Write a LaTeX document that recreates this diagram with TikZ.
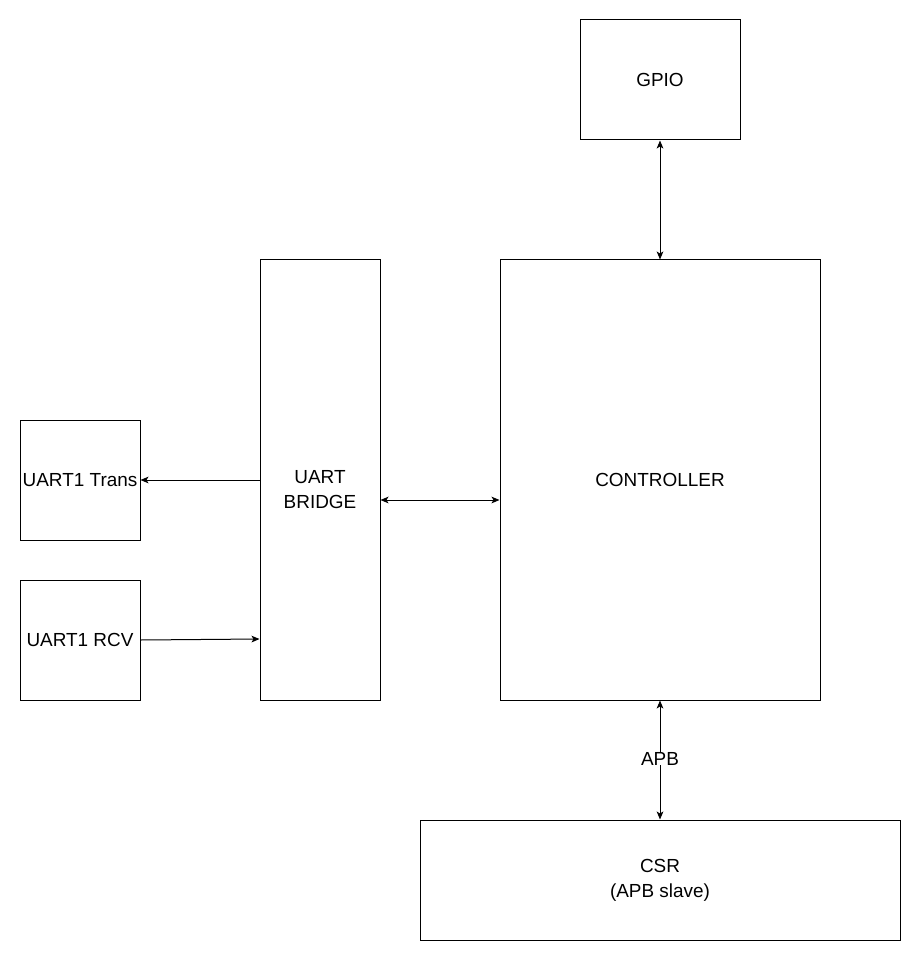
\documentclass[tikz,border=0pt]{standalone}
\usepackage{fontspec}
\setmainfont{Liberation Sans}
\usetikzlibrary{arrows.meta}

\begin{document}
\begin{tikzpicture}[x=0.75pt,y=-0.75pt,line width=0.75pt,>={Stealth[length=6pt,width=5pt,inset=1.5pt]},
    txt/.style={inner sep=0pt,align=center,font=\fontsize{14.2}{18.8}\selectfont},
    blk/.style={draw,txt}]
    \useasboundingbox (0,0) rectangle (922,962);
    % blocks
    \node[blk,minimum width=120pt,minimum height=90pt] (gpio) at (660,80) {GPIO};
    \node[blk,minimum width=90pt,minimum height=330pt] (bridge) at (320,480) {};
    \node[txt] (bridgetxt) at (320,490) {UART\\BRIDGE};
    \node[blk,minimum width=240pt,minimum height=330pt] (ctrl) at (660,480) {CONTROLLER};
    \node[blk,minimum width=90pt,minimum height=90pt] (trans) at (80,480) {UART1 Trans};
    \node[blk,minimum width=90pt,minimum height=90pt] (rcv) at (80,640) {UART1 RCV};
    \node[blk,minimum width=360pt,minimum height=90pt] (csr) at (660,880) {CSR\\(APB slave)};
    % links
    \draw [<->] (gpio) -- (ctrl);
    \draw [<->] (bridge.east |- 0,500) -- (ctrl.west |- 0,500);
    \draw [->] (bridge.west |- trans) -- (trans);
    \draw [->] (rcv.east) -- (bridge.west |- 0,639);
    \draw [<->] (ctrl) -- (csr) node[midway,fill=white,inner sep=2pt,txt,yshift=1pt] (apb) {APB};
\end{tikzpicture}
\end{document}
